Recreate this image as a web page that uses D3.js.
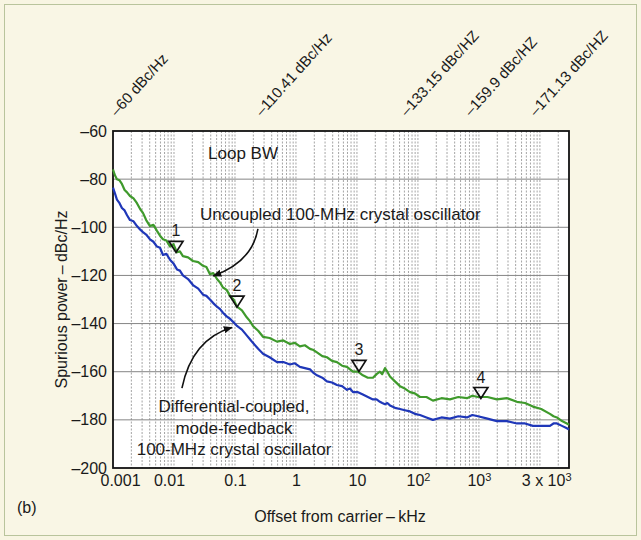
<!DOCTYPE html>
<html>
<head>
<meta charset="utf-8">
<script src="https://cdn.jsdelivr.net/npm/d3@7"></script>
<style>
  body { margin: 0; background: #f8f5e2; }
  svg { display: block; font-family: "Liberation Sans", Arial, sans-serif; }
</style>
</head>
<body>
<div id="chartArea"></div>
<script>
const w = 641;
const h = 540;
const margin = {top: 131, right: 72, bottom: 72, left: 113};

// offset from carrier, kHz
const offsetKHz = [0.001, 0.00108, 0.00116, 0.00128, 0.0014, 0.00155, 0.0017, 0.0019, 0.00217, 0.00247,
  0.0028, 0.0031, 0.0035, 0.00404, 0.0046, 0.00526, 0.0059, 0.0066, 0.0075, 0.0086,
  0.0098, 0.0112, 0.0125, 0.014, 0.017, 0.0205, 0.025, 0.0299, 0.034, 0.0389,
  0.044, 0.0507, 0.057, 0.0636, 0.073, 0.0828, 0.095, 0.108, 0.13, 0.157,
  0.176, 0.197, 0.24, 0.288, 0.37, 0.488, 0.62, 0.797, 0.96, 1.16,
  1.4, 1.7, 1.94, 2.21, 2.7, 3.22, 3.9, 4.7, 5.7, 6.86,
  7.7, 8.6, 10.4, 12.5, 15.1, 18.3, 21, 23.8, 26, 28.8,
  31.5, 34.8, 42, 50.7, 61, 74, 89, 108, 138, 176,
  243, 335, 460, 636, 780, 964, 1380, 1970, 2900, 4200,
  5700, 7680, 10500, 14600, 16700, 19000, 23000, 27700, 30000];

// uncoupled 100-MHz crystal oscillator, dBc/Hz
const uncoupled = [-76, -78.5, -80, -80.5, -82, -84.5, -85.5, -87, -88, -90,
  -92.5, -94, -97, -99.5, -99, -101.5, -103.5, -105, -105.5, -108,
  -107, -110.4, -110, -112, -112.5, -114, -114.5, -116, -116.5, -119.5,
  -119, -121.5, -123, -125, -126, -128.5, -130, -133, -134.5, -137.5,
  -139, -141, -143, -145.5, -146, -147.5, -147, -148.5, -148, -149.5,
  -149, -150.5, -151, -152, -153.5, -154, -155.5, -156, -157.5, -158,
  -159, -160, -160, -161.5, -162.5, -162.5, -161, -160, -161, -158.5,
  -160, -162, -164, -166, -167, -168.5, -169, -170.5, -170.5, -172,
  -171, -171.5, -170.5, -171, -170, -170.5, -170.5, -171.5, -171, -172.5,
  -173, -174.5, -175.5, -177.5, -178.5, -179, -180.5, -181.5, -182];

// differential-coupled, mode-feedback oscillator, dBc/Hz
const diffCoupled = [-83.5, -86, -88.5, -90, -92, -93, -95, -97, -97.5, -99.5,
  -101, -102, -103, -105, -106, -108, -108.5, -111.5, -111, -113.5,
  -115, -117.5, -118, -120, -121.5, -124, -125.5, -128, -128.5, -130,
  -131.5, -133, -134, -135.5, -137, -138, -139.5, -141, -142.5, -145,
  -146.5, -148, -150.5, -152.5, -154, -156, -156, -157, -156.5, -158,
  -158.5, -159, -160.5, -161.5, -162.5, -164, -164.5, -165.5, -166, -167.5,
  -167, -168.5, -168.5, -169.5, -170.5, -171.5, -171.5, -172.5, -173, -173.5,
  -173, -174, -175, -175.5, -176, -176.5, -177.5, -178, -179, -180,
  -179, -179.5, -178.5, -179, -178, -178.5, -179.5, -180.5, -180.5, -181.5,
  -181.5, -182.5, -182.5, -182.5, -181.5, -181.5, -182.5, -183.5, -184];

const markerKHz = [0.01, 0.1, 10, 1000];
const markerDb = [-110.41, -133.15, -159.9, -171.13];
const markerNames = ["1", "2", "3", "4"];

const topLabels = ["\u201360 dBc/Hz", "\u2013110.41 dBc/Hz", "\u2013133.15 dBc/HZ", "\u2013159.9 dBc/HZ", "\u2013171.13 dBc/HZ"];
const topLabelX = [117, 262, 407, 471, 536];

const xTicks = [0.001, 0.01, 0.1, 1, 10, 100, 1000, 30000];
const xTickBase = ["0.001", "0.01", "0.1", "1", "10", "10", "10", "3 x 10"];
const xTickSup = ["", "", "", "", "", "2", "3", "3"];
const yTicks = [-60, -80, -100, -120, -140, -160, -180, -200];

const svg = d3.select("#chartArea")
    .append("svg")
    .attr("width", w)
    .attr("height", h);

svg.append("rect")
    .attr("x", 4.5).attr("y", 4.5)
    .attr("width", w - 9).attr("height", h - 9)
    .attr("fill", "#f9f6e5")
    .attr("stroke", "#b9c49c")
    .attr("stroke-width", 1);

const x = d3.scaleLog()
    .domain([0.001, 30000])
    .range([margin.left, w - margin.right]);

const y = d3.scaleLinear()
    .domain([-200, -60])
    .range([h - margin.bottom, margin.top]);

// plot background
svg.append("rect")
    .attr("x", x(0.001)).attr("y", y(-60))
    .attr("width", x(30000) - x(0.001))
    .attr("height", y(-200) - y(-60))
    .attr("fill", "white");

// log grid
let gridVals = [];
for (let d = 0.001; d <= 10000; d *= 10) {
    for (let m = 1; m <= 9; m++) {
        let v = +(m * d).toPrecision(3);
        if (v > 0.001 && v < 30000) gridVals.push(v);
    }
}
svg.append("g")
    .selectAll("line")
    .data(gridVals)
    .enter()
    .append("line")
    .attr("x1", d => x(d)).attr("x2", d => x(d))
    .attr("y1", y(-60)).attr("y2", y(-200))
    .attr("stroke", "#8e8e8e")
    .attr("stroke-width", 0.8)
    .attr("stroke-dasharray", "2,1.5");

svg.append("g")
    .selectAll("line")
    .data(yTicks.slice(1, -1))
    .enter()
    .append("line")
    .attr("x1", x(0.001)).attr("x2", x(30000))
    .attr("y1", d => y(d)).attr("y2", d => y(d))
    .attr("stroke", "#858585")
    .attr("stroke-width", 1);

// axes
const yAxis = d3.axisLeft(y)
    .tickValues(yTicks)
    .tickSize(0)
    .tickPadding(6)
    .tickFormat(d => "\u2013" + Math.abs(d));

svg.append("g")
    .attr("transform", `translate(${margin.left},0)`)
    .call(yAxis)
    .call(g => g.select(".domain").remove())
    .selectAll("text")
    .attr("font-size", 16)
    .attr("font-family", "Liberation Sans, Arial, sans-serif")
    .attr("fill", "#1a1a1a");

const xAxis = d3.axisBottom(x)
    .tickValues(xTicks)
    .tickSize(0)
    .tickPadding(7)
    .tickFormat("");

const xg = svg.append("g")
    .attr("transform", `translate(0,${h - margin.bottom})`)
    .call(xAxis)
    .call(g => g.select(".domain").remove());

xg.selectAll(".tick text")
    .attr("font-size", 16)
    .attr("font-family", "Liberation Sans, Arial, sans-serif")
    .attr("fill", "#1a1a1a")
    .attr("text-anchor", (d, i) => i === xTicks.length - 1 ? "end" : "middle")
    .attr("dx", (d, i) => i === 0 ? 7 : (i === 1 ? -5 : (i === xTicks.length - 1 ? 2 : 0)))
    .each(function(d, i) {
        const t = d3.select(this);
        t.append("tspan").text(xTickBase[i]);
        if (xTickSup[i]) {
            t.append("tspan").attr("dy", "-0.45em").attr("font-size", 11).text(xTickSup[i]);
        }
    });

// frame
svg.append("rect")
    .attr("x", x(0.001)).attr("y", y(-60))
    .attr("width", x(30000) - x(0.001))
    .attr("height", y(-200) - y(-60))
    .attr("fill", "none")
    .attr("stroke", "#111")
    .attr("stroke-width", 1.8);

// curves
const line = d3.line()
    .x(d => x(d[0]))
    .y(d => y(d[1]));

svg.append("path")
    .datum(d3.zip(offsetKHz, diffCoupled))
    .attr("d", line)
    .attr("fill", "none")
    .attr("stroke", "#1f37b8")
    .attr("stroke-width", 2.2)
    .attr("stroke-linejoin", "round");

svg.append("path")
    .datum(d3.zip(offsetKHz, uncoupled))
    .attr("d", line)
    .attr("fill", "none")
    .attr("stroke", "#3f9a2c")
    .attr("stroke-width", 2.2)
    .attr("stroke-linejoin", "round");

// markers
const mk = svg.append("g")
    .selectAll("g")
    .data(d3.zip(markerKHz, markerDb, markerNames))
    .enter()
    .append("g")
    .attr("transform", d => `translate(${x(d[0]) + 2},${y(d[1])})`);

mk.append("path")
    .attr("d", "M0,0 L-7,-11 L7,-11 Z")
    .attr("fill", "none")
    .attr("stroke", "#111")
    .attr("stroke-width", 1.7);

mk.append("text")
    .attr("y", -16)
    .attr("text-anchor", "middle")
    .attr("font-size", 16)
    .attr("fill", "#1a1a1a")
    .text(d => d[2]);

// arrows
svg.append("defs").append("marker")
    .attr("id", "arrow")
    .attr("viewBox", "0 0 10 10")
    .attr("refX", 9).attr("refY", 5)
    .attr("markerWidth", 9).attr("markerHeight", 9)
    .attr("markerUnits", "userSpaceOnUse")
    .attr("orient", "auto")
    .append("path")
    .attr("d", "M0,1 L10,5 L0,9 Z")
    .attr("fill", "#111");

const curve = pts => `M${x(pts[0][0])},${y(pts[0][1])} Q${x(pts[1][0])},${y(pts[1][1])} ${x(pts[2][0])},${y(pts[2][1])}`;

svg.append("path")
    .attr("d", curve([[0.238, -100.7], [0.19, -114.5], [0.044, -120.2]]))
    .attr("fill", "none")
    .attr("stroke", "#111")
    .attr("stroke-width", 1.6)
    .attr("marker-end", "url(#arrow)");

svg.append("path")
    .attr("d", curve([[0.0135, -166.8], [0.0197, -146.5], [0.089, -141.6]]))
    .attr("fill", "none")
    .attr("stroke", "#111")
    .attr("stroke-width", 1.6)
    .attr("marker-end", "url(#arrow)");

// text
const txt = (tx, ty, s, size, anchor) => svg.append("text")
    .attr("x", tx).attr("y", ty)
    .attr("font-size", size)
    .attr("text-anchor", anchor || "start")
    .attr("fill", "#1a1a1a")
    .text(s);

txt(243, 159, "Loop BW", 17, "middle");
txt(200, 220, "Uncoupled 100-MHz crystal oscillator", 17);
txt(234, 412, "Differential-coupled,", 17, "middle");
txt(234, 434, "mode-feedback", 17, "middle");
txt(234, 455, "100-MHz crystal oscillator", 17, "middle");
txt(340, 522, "Offset from carrier\u2009\u2013\u2009kHz", 16, "middle");
txt(17, 513, "(b)", 16);

svg.append("text")
    .attr("transform", `translate(67,${(y(-60) + y(-200)) / 2}) rotate(-90)`)
    .attr("text-anchor", "middle")
    .attr("font-size", 16)
    .attr("fill", "#1a1a1a")
    .text("Spurious power\u2009\u2013\u2009dBc/Hz");

svg.append("g")
    .selectAll("text")
    .data(topLabels)
    .enter()
    .append("text")
    .attr("transform", (d, i) => `translate(${topLabelX[i]},117) rotate(-48)`)
    .attr("font-size", 15)
    .attr("fill", "#1a1a1a")
    .text(d => d);
</script>
</body>
</html>
